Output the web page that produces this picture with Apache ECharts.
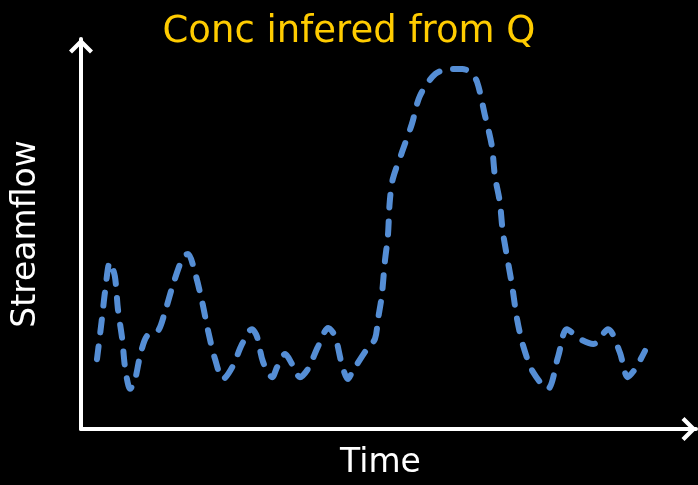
<!DOCTYPE html>
<html>
<head>
<meta charset="utf-8">
<script src="https://cdn.jsdelivr.net/npm/echarts@6/dist/echarts.min.js"></script>
<style>
  html, body { margin: 0; padding: 0; background: #000; }
  #chart { width: 698px; height: 485px; }
</style>
</head>
<body>
<div id="chart"></div>
<script>
// Time (arbitrary units, 0-100) and streamflow (arbitrary units, 0-100)
const time = [
  2.6, 3.4, 3.9, 4.7, 5.5, 6.0, 6.7, 7.2, 8.0, 8.8, 9.6, 10.7, 12.5, 13.7, 15.0, 16.6, 17.4,
  18.5, 19.7, 20.7, 21.8, 23.1, 24.6, 26.2, 27.8, 28.6, 29.6, 31.1, 31.9, 33.2, 34.3, 35.6,
  36.9, 38.5, 40.2, 41.3, 42.4, 43.4, 44.2, 46.5, 47.8, 48.3, 48.9, 49.4, 49.9, 50.2, 50.7,
  52.2, 53.8, 55.1, 57.6, 60.0, 62.0, 63.3, 64.4, 65.7, 66.8, 67.3, 68.1, 68.6, 70.1, 70.9,
  71.9, 73.5, 75.9, 77.6, 79.0, 81.1, 83.3, 85.7, 87.6, 88.9, 90.1, 91.7
];
const streamflow = [
  17.9, 28.2, 35.1, 42.8, 39.2, 30.8, 23.1, 15.4, 10.3, 12.8, 18.7, 23.8, 25.1, 30.3, 37.2, 44.1, 44.9,
  40.3, 32.6, 24.9, 17.9, 12.8, 15.9, 21.8, 25.6, 23.8, 17.2, 13.3, 15.9, 19.2, 16.7, 13.3,
  15.4, 21.0, 25.9, 23.8, 16.7, 12.8, 14.9, 20.5, 23.1, 28.2, 34.1, 42.8, 49.5, 58.2, 64.1,
  71.0, 78.2, 85.4, 91.0, 92.3, 92.3, 91.5, 89.0, 80.3, 72.6, 64.9, 58.2, 50.5, 36.7, 28.2,
  21.3, 14.6, 10.3, 18.7, 25.6, 23.1, 21.8, 25.6, 19.7, 13.3, 15.4, 20.0
];

const titleText = 'Conc infered from Q';
const xName = 'Time';
const yName = 'Streamflow';

const FONT = 'DejaVu Sans';
// Open chevron arrow head (points up; ECharts rotates it along each axis)
const chevron = 'path://M0,12 L12,0 L24,12 L21,15 L12,6 L3,15 Z';

const axisLine = {
  show: true,
  symbol: ['none', chevron],
  symbolSize: [24, 15],
  symbolOffset: [0, -7],
  lineStyle: { color: '#ffffff', width: 4 }
};

const chart = echarts.init(document.getElementById('chart'), null, { renderer: 'canvas' });
chart.setOption({
  backgroundColor: '#000000',
  animation: false,
  title: {
    text: titleText,
    left: 'center',
    top: 9,
    textStyle: { color: '#FFCC00', fontFamily: FONT, fontSize: 37, fontWeight: 'normal' }
  },
  grid: { left: 81, right: 2, top: 39, bottom: 55 },
  xAxis: {
    type: 'value',
    min: 0,
    max: 100,
    name: xName,
    nameLocation: 'middle',
    nameGap: 18,
    nameTextStyle: {
      color: '#ffffff', fontFamily: FONT, fontSize: 33, verticalAlign: 'top',
      padding: [0, 16, 0, 0]
    },
    axisLine: axisLine,
    axisTick: { show: false },
    axisLabel: { show: false },
    splitLine: { show: false }
  },
  yAxis: {
    type: 'value',
    min: 0,
    max: 100,
    name: yName,
    nameLocation: 'middle',
    nameGap: 38,
    nameRotate: 90,
    nameTextStyle: { color: '#ffffff', fontFamily: FONT, fontSize: 33 },
    axisLine: axisLine,
    axisTick: { show: false },
    axisLabel: { show: false },
    splitLine: { show: false }
  },
  series: [{
    type: 'line',
    data: time.map((t, i) => [t, streamflow[i]]),
    smooth: 0.3,
    showSymbol: false,
    lineStyle: {
      color: '#558ED5',
      width: 6,
      type: [13, 14],
      cap: 'round',
      join: 'round'
    }
  }]
});
</script>
</body>
</html>
